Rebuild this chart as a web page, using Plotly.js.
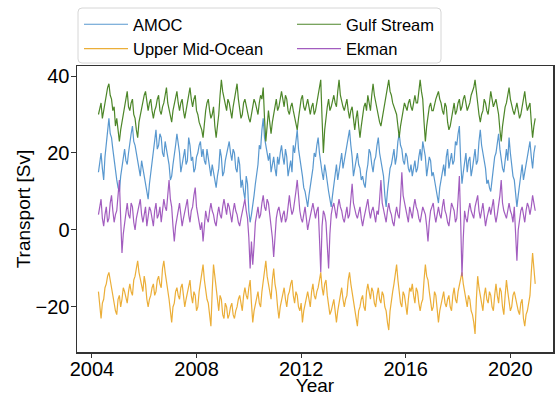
<!DOCTYPE html>
<html>
<head>
<meta charset="utf-8">
<script src="https://cdn.plot.ly/plotly-3.0.1.min.js"></script>
<style>
  html, body { margin: 0; padding: 0; background: #fff; }
  #chart { width: 555px; height: 396px; }
</style>
</head>
<body>
<div id="chart"></div>
<script>
// Sampling of the transport records (decimal years)
const startYear = 2004.25;
const stepYears = 0.05;

// Transport components in Sverdrups, one value per sample
const amoc = [
  15, 18, 20, 16, 13, 19, 22, 26, 29, 25, 24, 21, 18, 15, 13, 11, 10, 14, 16, 19,
  21, 18, 17, 20, 23, 25, 27, 23, 22, 20, 18, 15, 14, 18, 16, 13, 12, 10, 8, 12,
  15, 18, 20, 24, 26, 21, 22, 25, 24, 20, 19, 23, 21, 18, 17, 13, 14, 17, 19, 22,
  25, 22, 20, 15, 17, 20, 21, 17, 18, 24, 22, 18, 19, 15, 16, 19, 20, 22, 23, 19,
  21, 18, 17, 21, 19, 16, 14, 17, 15, 12, 11, 14, 16, 21, 19, 14, 15, 18, 20, 22,
  23, 20, 18, 21, 20, 16, 15, 19, 17, 11, 13, 10, 8, 14, 12, 5, 2, 4, 6, 9,
  12, 15, 17, 22, 21, 26, 29, 24, 22, 19, 18, 20, 15, 17, 19, 16, 14, 19, 17, 20,
  22, 19, 17, 21, 19, 14, 16, 18, 15, 22, 20, 23, 26, 21, 19, 16, 14, 11, 10, 8,
  6, 9, 11, 14, 16, 20, 19, 22, 24, 20, 17, 15, 13, 17, 15, 12, 10, 8, 6, 9,
  12, 15, 17, 13, 15, 18, 20, 16, 18, 21, 23, 24, 26, 22, 19, 14, 16, 19, 20, 17,
  16, 13, 14, 12, 11, 15, 17, 21, 20, 17, 15, 18, 19, 22, 24, 20, 18, 16, 14, 9,
  6, 10, 13, 16, 17, 19, 21, 17, 19, 23, 25, 22, 21, 18, 17, 20, 19, 16, 15, 17,
  14, 16, 18, 15, 16, 19, 21, 18, 23, 21, 19, 14, 16, 19, 18, 14, 15, 13, 12, 9,
  7, 11, 13, 16, 17, 14, 19, 21, 16, 18, 20, 17, 18, 23, 22, 25, 27, 18, 12, 15,
  17, 20, 15, 18, 19, 14, 16, 19, 21, 17, 18, 23, 26, 22, 20, 17, 16, 12, 13, 11,
  10, 13, 16, 19, 20, 22, 25, 21, 18, 16, 15, 19, 21, 18, 24, 20, 17, 14, 13, 9,
  6, 9, 12, 15, 17, 13, 15, 18, 20, 22, 23, 19, 16, 20, 22
];

const upperMidOcean = [
  -16, -20, -23, -19, -18, -15, -14, -12, -11, -13, -15, -18, -19, -21, -22, -18, -17, -20, -18, -15,
  -16, -18, -19, -16, -14, -16, -17, -13, -12, -10, -8, -11, -13, -15, -16, -12, -14, -18, -20, -18,
  -17, -15, -14, -17, -16, -13, -12, -14, -15, -10, -8, -11, -13, -16, -18, -21, -24, -20, -19, -16,
  -15, -17, -18, -15, -14, -17, -20, -18, -16, -14, -13, -17, -19, -16, -17, -21, -20, -16, -14, -12,
  -9, -13, -16, -18, -19, -22, -25, -16, -9, -12, -15, -19, -21, -17, -18, -22, -23, -19, -20, -23,
  -22, -20, -19, -22, -23, -21, -20, -18, -17, -19, -21, -17, -15, -17, -18, -15, -13, -19, -24, -21,
  -19, -17, -16, -19, -20, -16, -13, -11, -8, -12, -14, -16, -18, -13, -10, -14, -16, -20, -23, -20,
  -18, -16, -15, -18, -20, -17, -16, -14, -13, -17, -19, -16, -17, -20, -21, -19, -24, -21, -19, -17,
  -16, -18, -20, -16, -14, -17, -18, -16, -15, -13, -11, -15, -17, -14, -13, -17, -19, -22, -21, -19,
  -18, -21, -24, -21, -19, -16, -15, -18, -20, -18, -17, -13, -11, -14, -16, -19, -20, -23, -25, -21,
  -20, -18, -17, -20, -21, -16, -14, -16, -18, -15, -16, -19, -20, -17, -15, -18, -19, -16, -17, -20,
  -21, -24, -26, -21, -18, -16, -14, -12, -9, -13, -16, -19, -20, -16, -17, -20, -22, -18, -15, -16,
  -14, -17, -19, -15, -16, -19, -21, -19, -18, -13, -9, -12, -13, -16, -18, -21, -20, -16, -17, -21,
  -24, -21, -19, -17, -16, -19, -20, -18, -17, -20, -21, -17, -15, -18, -19, -16, -14, -12, -11, -14,
  -16, -19, -20, -17, -18, -21, -22, -24, -27, -18, -12, -15, -17, -20, -21, -17, -15, -18, -19, -16,
  -17, -20, -21, -17, -14, -17, -19, -15, -16, -20, -22, -17, -13, -16, -18, -21, -20, -17, -16, -18,
  -19, -21, -22, -19, -18, -23, -25, -22, -21, -19, -17, -11, -6, -10, -14
];

const gulfStream = [
  30, 32, 33, 29, 31, 34, 35, 37, 38, 35, 34, 31, 32, 27, 29, 25, 23, 26, 28, 31,
  33, 35, 36, 32, 31, 33, 34, 30, 29, 26, 24, 28, 30, 32, 33, 35, 36, 33, 31, 33,
  34, 31, 29, 31, 32, 34, 35, 31, 30, 32, 33, 35, 37, 33, 31, 29, 28, 31, 33, 35,
  36, 33, 31, 33, 34, 31, 29, 31, 33, 35, 37, 34, 32, 34, 35, 31, 30, 28, 27, 26,
  24, 28, 31, 33, 34, 31, 29, 30, 32, 27, 24, 27, 30, 35, 39, 36, 34, 32, 31, 34,
  33, 31, 29, 32, 34, 36, 38, 34, 32, 29, 30, 33, 34, 32, 31, 29, 28, 30, 31, 34,
  33, 31, 30, 33, 35, 34, 37, 29, 23, 27, 31, 28, 25, 28, 30, 33, 34, 31, 32, 34,
  36, 34, 32, 35, 34, 31, 30, 32, 33, 31, 29, 27, 26, 29, 32, 34, 35, 32, 31, 33,
  34, 32, 30, 32, 33, 30, 31, 33, 35, 37, 39, 29, 20, 26, 30, 32, 34, 31, 32, 34,
  35, 33, 32, 36, 39, 35, 33, 32, 31, 33, 34, 31, 29, 31, 32, 29, 26, 29, 31, 27,
  24, 27, 30, 32, 33, 31, 35, 33, 31, 35, 38, 35, 33, 31, 30, 28, 27, 29, 31, 33,
  34, 37, 39, 36, 35, 33, 32, 31, 30, 27, 24, 27, 29, 31, 33, 32, 31, 33, 34, 32,
  31, 33, 35, 33, 33, 36, 39, 36, 34, 28, 23, 27, 30, 32, 33, 31, 31, 33, 34, 35,
  36, 34, 33, 31, 30, 33, 32, 28, 26, 27, 29, 31, 33, 30, 31, 33, 34, 31, 32, 34,
  35, 33, 31, 32, 33, 35, 36, 37, 39, 35, 33, 30, 28, 30, 31, 34, 33, 31, 30, 33,
  36, 34, 32, 33, 34, 32, 30, 26, 23, 27, 30, 32, 33, 35, 37, 34, 32, 31, 30, 32,
  33, 31, 29, 30, 32, 34, 36, 33, 31, 32, 33, 28, 24, 27, 29
];

const ekman = [
  4, 6, 8, 3, 1, 4, 6, 2, 3, 7, 9, 5, 2, 4, 5, 9, 13, 3, -6, -1,
  2, 5, 7, 4, 3, 7, 6, 2, 0, 3, 5, 7, 8, 4, 2, 4, 6, 1, 3, 6,
  5, 3, 1, 5, 7, 3, 4, 6, 2, 5, 8, 6, 5, 9, 13, 8, 6, 1, -3, 1,
  3, 5, 7, 4, 1, 3, 5, 7, 8, 4, 2, 5, 6, 9, 11, 6, 4, 2, 0, 2,
  -3, 1, 5, 3, 2, 5, 7, 5, 4, 2, 1, 4, 6, 4, 3, 6, 8, 6, 4, 7,
  6, 4, 2, 5, 7, 5, 4, 2, 1, 3, 5, 7, 8, 5, 3, -2, -10, -3, -9, -4,
  2, 4, 6, 3, 4, 7, 9, 6, 5, 8, 7, 4, 1, -2, -7, -1, 3, 5, 6, 4,
  2, 4, 5, 2, 3, 6, 9, 6, 4, 5, 7, 10, 13, 8, 5, 3, 2, 4, 6, 3,
  0, 2, 4, 6, 7, 5, 3, 5, 6, -2, -11, 1, 5, 4, 2, -4, -10, -1, 4, 6,
  7, 5, 3, 6, 8, 6, 5, 3, 2, 4, 6, 3, 4, 8, 12, 7, 5, 4, 3, 5,
  6, 3, 1, 3, 5, 7, 8, 5, 3, 5, 6, 4, 2, 5, 4, 8, 13, 7, 5, 4,
  2, 5, 7, 5, 4, 2, 1, 4, 6, 4, 3, 8, 15, 9, 7, 5, 4, 2, 6, 4,
  3, 6, 8, 6, 5, 3, 2, 4, 6, 5, 4, 1, -3, 2, 5, 6, 7, 4, 2, 4,
  6, 4, 3, 6, 8, 5, 4, 2, 1, 4, 7, 6, 5, 2, 3, 8, 14, 2, -12, -2,
  5, 3, 2, 5, 7, 5, 4, 3, 6, 8, 9, 5, 3, 5, 7, 4, 1, 3, 5, 6,
  4, 6, 8, 4, 2, 4, 6, 9, 13, 7, 5, 4, 3, 5, 7, 5, 4, 2, 6, -1,
  -8, 0, 3, 5, 6, 4, 2, 5, 7, 6, 4, 6, 9, 7, 5
];

const seriesNames = ['AMOC', 'Upper Mid-Ocean', 'Gulf Stream', 'Ekman'];
const yearTicks = [2004, 2008, 2012, 2016, 2020];
const transportTicks = [-20, 0, 20, 40];
const transportTickText = ['\u221220', '0', '20', '40'];

const sampleYears = n => Array.from({ length: n }, (_, i) => +(startYear + i * stepYears).toFixed(2));

const FONT = 'Liberation Sans, Arial, Helvetica, sans-serif';

function lineTrace(name, values, color, legendId) {
  return {
    type: 'scatter',
    mode: 'lines',
    name: name,
    x: sampleYears(values.length),
    y: values,
    line: { color: color, width: 1.2 },
    opacity: 0.92,
    legend: legendId,
    hoverinfo: 'skip'
  };
}

const traces = [
  lineTrace(seriesNames[0], amoc, '#4b8fcb', 'legend'),
  lineTrace(seriesNames[1], upperMidOcean, '#e9a727', 'legend'),
  lineTrace(seriesNames[2], gulfStream, '#3e7c17', 'legend2'),
  lineTrace(seriesNames[3], ekman, '#9a4fba', 'legend2')
];

// Plot-area geometry in pixels, used to place the legend frame
const W = 555, H = 396;
const M = { l: 77, r: 2, t: 66, b: 44 };
const pw = W - M.l - M.r, ph = H - M.t - M.b;
const px = v => (v - M.l) / pw;
const py = v => (H - M.b - v) / ph;

function roundedRect(x0, y0, x1, y1, r) {
  const X0 = px(x0), X1 = px(x1), Y0 = py(y1), Y1 = py(y0);
  const rx = r / pw, ry = r / ph;
  return 'M' + (X0 + rx) + ',' + Y1 +
    ' L' + (X1 - rx) + ',' + Y1 +
    ' Q' + X1 + ',' + Y1 + ' ' + X1 + ',' + (Y1 - ry) +
    ' L' + X1 + ',' + (Y0 + ry) +
    ' Q' + X1 + ',' + Y0 + ' ' + (X1 - rx) + ',' + Y0 +
    ' L' + (X0 + rx) + ',' + Y0 +
    ' Q' + X0 + ',' + Y0 + ' ' + X0 + ',' + (Y0 + ry) +
    ' L' + X0 + ',' + (Y1 - ry) +
    ' Q' + X0 + ',' + Y1 + ' ' + (X0 + rx) + ',' + Y1 + ' Z';
}

const legendCommon = {
  xanchor: 'left', yanchor: 'top',
  bgcolor: 'rgba(0,0,0,0)', borderwidth: 0,
  font: { family: FONT, size: 16.5, color: '#000' },
  tracegroupgap: 0,
  itemwidth: 44
};

const layout = {
  width: W, height: H,
  margin: M,
  paper_bgcolor: '#fff',
  plot_bgcolor: '#fff',
  font: { family: FONT, color: '#000' },
  showlegend: true,
  xaxis: {
    range: [2003.43, 2021.63],
    tickmode: 'array',
    tickvals: yearTicks,
    ticktext: yearTicks.map(String),
    ticks: 'outside', ticklen: 4, tickwidth: 1, tickcolor: '#333',
    ticklabelstandoff: -6,
    tickfont: { family: FONT, size: 20, color: '#000' },
    showline: true, mirror: true, linecolor: '#333', linewidth: 1.5,
    showgrid: false, zeroline: false,
    title: { text: 'Year', font: { family: FONT, size: 19, color: '#000' }, standoff: 9 }
  },
  yaxis: {
    range: [-31.7, 42.6],
    tickmode: 'array',
    tickvals: transportTicks,
    ticktext: transportTickText,
    ticks: 'outside', ticklen: 5, tickwidth: 1, tickcolor: '#333',
    ticklabelstandoff: -3,
    tickfont: { family: FONT, size: 20, color: '#000' },
    showline: true, mirror: true, linecolor: '#333', linewidth: 1.5,
    showgrid: false, zeroline: false,
    title: { text: 'Transport [Sv]', font: { family: FONT, size: 19, color: '#000' }, standoff: 0 }
  },
  legend: Object.assign({}, legendCommon, { x: px(79), y: py(7) }),
  legend2: Object.assign({}, legendCommon, { x: px(292), y: py(7) }),
  shapes: [{
    type: 'path', xref: 'paper', yref: 'paper', layer: 'below',
    path: roundedRect(78, 8, 441, 63, 4),
    fillcolor: '#fff',
    line: { color: '#d6d6d6', width: 1 }
  }]
};

Plotly.newPlot('chart', traces, layout, { staticPlot: true, displayModeBar: false });
</script>
</body>
</html>
